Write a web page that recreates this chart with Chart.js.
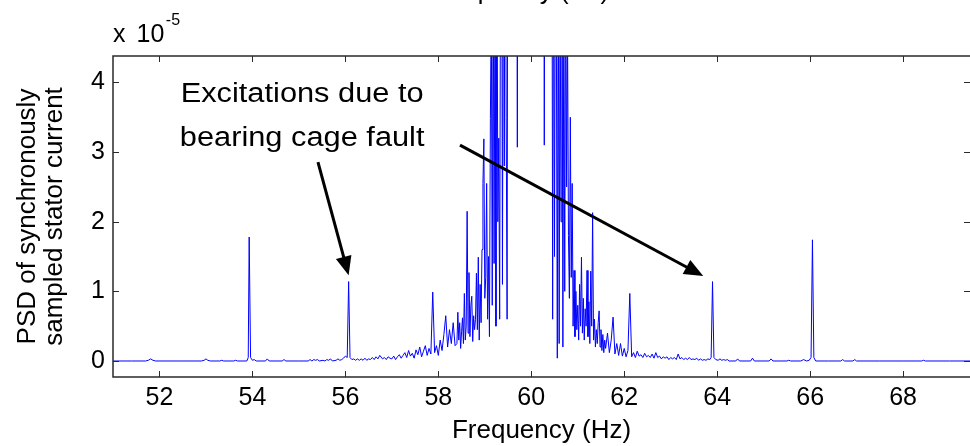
<!DOCTYPE html>
<html>
<head>
<meta charset="utf-8">
<script src="https://cdn.jsdelivr.net/npm/chart.js@4/dist/chart.umd.min.js"></script>
<style>
  html, body { margin: 0; padding: 0; background: #fff; overflow: hidden; }
  canvas { display: block; }
</style>
</head>
<body>
<canvas id="psd" width="970" height="446"></canvas>
<script>
// Axis ticks: frequency in Hz, PSD in units of 1e-5
const freqTicks = [52, 54, 56, 58, 60, 62, 64, 66, 68];
const psdTicks = [0, 1, 2, 3, 4];

// Lower side of the spectrum (Hz / PSD x 1e-5)
const lowFreq = [
  51.00, 51.40, 51.70, 51.76, 51.81, 51.86, 51.92, 52.40, 52.90, 52.96,
  53.00, 53.04, 53.10, 53.30, 53.34, 53.38, 53.60, 53.64, 53.68, 53.88,
  53.91, 53.93, 53.96, 54.00, 54.04, 54.08, 54.28, 54.32, 54.36, 54.64,
  54.68, 54.72, 55.00, 55.20, 55.24, 55.28, 55.32, 55.36, 55.40, 55.44,
  55.52, 55.56, 55.60, 55.64, 55.68, 55.72, 55.80, 55.84, 55.88, 55.92,
  55.96, 56.00, 56.04, 56.07, 56.10, 56.14, 56.18, 56.22, 56.26, 56.30,
  56.34, 56.38, 56.42, 56.46, 56.50, 56.54, 56.58, 56.62, 56.66, 56.70,
  56.74
];
const lowPsd = [
  0, 0, 0, 0.01, 0.03, 0.01, 0, 0, 0, 0.01,
  0.03, 0.01, 0, 0, 0.01, 0, 0, 0.01, 0, 0,
  0.05, 1.78, 0.05, 0.01, 0.02, 0, 0, 0.03, 0, 0,
  0.02, 0, 0, 0, 0.02, 0, 0.02, 0.01, 0.02, 0,
  0.01, 0, 0.02, 0.01, 0.03, 0, 0.01, 0.03, 0.01, 0.02,
  0.04, 0.07, 0.05, 1.14, 0.05, 0.02, 0.03, 0.01, 0.03, 0.01,
  0.03, 0.01, 0.04, 0.01, 0.03, 0.02, 0.05, 0.02, 0.06, 0.03,
  0.08
];

// Rising skirt below the supply frequency
const skirtLowFreq = [
  56.80, 56.84, 56.88, 56.92, 56.96, 57.00, 57.04, 57.08, 57.12, 57.16,
  57.20, 57.24, 57.28, 57.32, 57.36, 57.40, 57.44, 57.48, 57.52, 57.56,
  57.60, 57.64, 57.68, 57.72, 57.76, 57.80, 57.84, 57.88, 57.92, 57.96,
  58.00, 58.04, 58.08, 58.12, 58.16, 58.20, 58.24, 58.28, 58.32, 58.36
];
const skirtLowPsd = [
  0.03, 0.05, 0.02, 0.06, 0.04, 0.03, 0.07, 0.02, 0.06, 0.09,
  0.04, 0.08, 0.12, 0.05, 0.15, 0.07, 0.11, 0.04, 0.16, 0.09,
  0.20, 0.06, 0.14, 0.22, 0.08, 0.18, 0.10, 0.99, 0.12, 0.22,
  0.08, 0.30, 0.15, 0.38, 0.65, 0.20, 0.45, 0.25, 0.55, 0.22
];

// Core band around 60 Hz (finer spacing)
const coreFreq = [
  58.40, 58.42, 58.44, 58.46, 58.48, 58.50, 58.52, 58.54, 58.56, 58.58,
  58.60, 58.62, 58.64, 58.66, 58.68, 58.70, 58.72, 58.74, 58.76, 58.78,
  58.80, 58.82, 58.84, 58.86, 58.88, 58.90, 58.92, 58.94, 58.96, 58.98,
  59.00, 59.02, 59.04, 59.06, 59.08, 59.10, 59.12, 59.14, 59.16, 59.18,
  59.20, 59.22, 59.24, 59.26, 59.28, 59.30, 59.32, 59.34, 59.36, 59.38,
  59.40, 59.42, 59.44, 59.46, 59.48, 59.50, 59.52, 59.54, 59.56, 59.58,
  59.60, 59.62, 59.64, 59.66, 59.68, 59.70, 59.72, 59.74, 59.76, 59.78,
  59.80, 59.82, 59.84, 59.86, 59.88, 59.90, 59.92, 59.94, 59.96, 59.98,
  60.00, 60.02, 60.04, 60.06, 60.08, 60.10, 60.12, 60.14, 60.16, 60.18,
  60.20, 60.22, 60.24, 60.26, 60.28, 60.30, 60.32, 60.34, 60.36, 60.38,
  60.40, 60.42, 60.44, 60.46, 60.48, 60.50, 60.52, 60.54, 60.56, 60.58,
  60.60, 60.62, 60.64, 60.66, 60.68, 60.70, 60.72, 60.74, 60.76, 60.78,
  60.80, 60.82, 60.84, 60.86, 60.88, 60.90, 60.92, 60.94, 60.96, 60.98,
  61.00, 61.02, 61.04, 61.06, 61.08, 61.10, 61.12, 61.14, 61.16, 61.18,
  61.20, 61.22, 61.24, 61.26, 61.28, 61.30, 61.32, 61.34, 61.36, 61.38,
  61.40, 61.42, 61.44, 61.46, 61.48, 61.50, 61.52, 61.54, 61.56, 61.58,
  61.60
];
const corePsd = [
  0.25, 0.70, 0.30, 0.55, 0.18, 0.42, 0.62, 0.25, 0.97, 0.30,
  0.50, 2.15, 0.40, 1.27, 0.35, 0.80, 0.93, 0.28, 0.65, 0.45,
  0.60, 1.26, 0.45, 1.49, 0.30, 1.10, 0.55, 1.60, 2.55, 3.19,
  0.90, 1.20, 2.55, 0.60, 1.50, 0.35, 3.48, 5.20, 0.80, 6.00,
  1.40, 5.50, 0.50, 7.0, 2.0, 3.20, 0.60, 6.5, 8.0, 1.10,
  7.5, 2.8, 9.0, 3.5, 0.60, 10, 8, 14, 11, 16,
  12, 18, 14, 20, 9, 3.07, 10, 18, 22, 26,
  30, 36, 44, 52, 62, 75, 90, 105, 120, 140,
  160, 140, 120, 105, 90, 75, 62, 52, 44, 36,
  30, 25, 18, 10, 3.10, 9, 16, 12, 15, 10,
  14, 6.0, 9.0, 0.60, 7.0, 1.50, 6.5, 4.8, 0.04, 6.0,
  0.25, 5.5, 2.0, 7.0, 0.20, 5.2, 1.0, 6.0, 2.5, 4.8,
  1.8, 0.9, 3.50, 1.2, 2.55, 0.5, 1.30, 0.35, 1.0, 0.45,
  0.8, 0.3, 1.1, 0.5, 1.49, 0.4, 0.9, 0.3, 0.75, 0.5,
  1.30, 0.35, 0.85, 0.25, 1.29, 0.5, 2.13, 0.3, 0.6, 0.2,
  0.45, 0.25, 0.55, 0.72, 0.20, 0.45, 0.15, 0.38, 0.12, 0.30,
  0.18
];

// Falling skirt above the supply frequency
const skirtHighFreq = [
  61.64, 61.68, 61.72, 61.76, 61.80, 61.84, 61.88, 61.92, 61.96, 62.00,
  62.04, 62.08, 62.12, 62.16, 62.20, 62.24, 62.28, 62.32, 62.36, 62.40,
  62.44, 62.48, 62.52, 62.56, 62.60, 62.64, 62.68, 62.72, 62.76, 62.80,
  62.84, 62.88, 62.92, 62.96, 63.00, 63.04, 63.08, 63.12, 63.16, 63.20
];
const skirtHighPsd = [
  0.40, 0.12, 0.30, 0.63, 0.10, 0.25, 0.08, 0.25, 0.07, 0.18,
  0.06, 0.15, 0.97, 0.06, 0.12, 0.05, 0.14, 0.07, 0.09, 0.05,
  0.11, 0.06, 0.08, 0.05, 0.10, 0.04, 0.12, 0.05, 0.07, 0.03,
  0.06, 0.04, 0.06, 0.02, 0.05, 0.03, 0.05, 0.02, 0.10, 0.03
];

// Upper side of the spectrum
const highFreq = [
  63.24, 63.28, 63.32, 63.36, 63.40, 63.44, 63.48, 63.52, 63.56, 63.60,
  63.64, 63.68, 63.72, 63.76, 63.80, 63.84, 63.87, 63.90, 63.93, 63.97,
  64.02, 64.06, 64.10, 64.14, 64.18, 64.22, 64.26, 64.40, 64.44, 64.48,
  64.72, 64.76, 64.80, 65.12, 65.16, 65.20, 65.50, 65.54, 65.58, 65.80,
  65.86, 65.92, 65.98, 66.02, 66.05, 66.08, 66.12, 66.40, 66.66, 66.70,
  66.74, 66.92, 66.96, 67.00, 67.50, 68.00, 68.40, 68.44, 68.48, 69.00,
  69.44
];
const highPsd = [
  0.05, 0.02, 0.04, 0.02, 0.05, 0.02, 0.03, 0.02, 0.04, 0.01,
  0.03, 0.01, 0.02, 0.01, 0.03, 0.02, 0.05, 1.14, 0.05, 0.02,
  0.01, 0.03, 0.01, 0.02, 0.01, 0.02, 0, 0, 0.03, 0,
  0, 0.04, 0, 0, 0.03, 0, 0, 0.01, 0, 0,
  0.02, 0, 0.01, 0.05, 1.74, 0.05, 0, 0, 0, 0.02,
  0, 0, 0.02, 0, 0, 0, 0, 0.01, 0, 0,
  0
];

const FONT = "'Liberation Sans', Arial, Helvetica, sans-serif";

// Callout: text block plus arrows pointing at the cage-fault sidebands (data units)
const callout = {
  lines: ['Excitations due to', 'bearing cage fault'],
  anchor: { x: 55.07, y: 3.72 },
  lineGap: 44,
  arrows: [
    { from: { x: 55.41, y: 2.855 }, to: { x: 56.07, y: 1.23 } },
    { from: { x: 58.466, y: 3.10 }, to: { x: 63.70, y: 1.22 } }
  ]
};

function zip(f, p) { return f.map((v, i) => ({ x: v, y: p[i] })); }
const spectrum = [].concat(
  zip(lowFreq, lowPsd),
  zip(skirtLowFreq, skirtLowPsd),
  zip(coreFreq, corePsd),
  zip(skirtHighFreq, skirtHighPsd),
  zip(highFreq, highPsd)
);

function drawArrow(ctx, x0, y0, x1, y1) {
  const ang = Math.atan2(y1 - y0, x1 - x0);
  const headLen = 19, headHalf = 8;
  const bx = x1 - headLen * Math.cos(ang), by = y1 - headLen * Math.sin(ang);
  ctx.beginPath();
  ctx.moveTo(x0, y0);
  ctx.lineTo(bx + 2 * Math.cos(ang), by + 2 * Math.sin(ang));
  ctx.stroke();
  ctx.beginPath();
  ctx.moveTo(x1, y1);
  ctx.lineTo(bx + headHalf * Math.sin(ang), by - headHalf * Math.cos(ang));
  ctx.lineTo(bx - headHalf * Math.sin(ang), by + headHalf * Math.cos(ang));
  ctx.closePath();
  ctx.fill();
}

const axesBox = {
  id: 'axesBox',
  afterDatasetsDraw(chart) {
    const { ctx, chartArea: a, scales: { x, y } } = chart;
    ctx.save();
    // inward tick marks on all four sides
    ctx.strokeStyle = '#2a2a2a';
    ctx.lineWidth = 1;
    ctx.beginPath();
    freqTicks.forEach(v => {
      const px = Math.round(x.getPixelForValue(v)) + 0.5;
      ctx.moveTo(px, a.bottom); ctx.lineTo(px, a.bottom - 6);
      ctx.moveTo(px, a.top); ctx.lineTo(px, a.top + 6);
    });
    psdTicks.forEach(v => {
      const py = Math.round(y.getPixelForValue(v)) + 0.5;
      ctx.moveTo(a.left, py); ctx.lineTo(a.left + 6, py);
      ctx.moveTo(a.right, py); ctx.lineTo(a.right - 6, py);
    });
    ctx.stroke();
    // box
    ctx.lineWidth = 1.5;
    ctx.beginPath();
    ctx.moveTo(a.right, a.top); ctx.lineTo(a.left, a.top);
    ctx.lineTo(a.left, a.bottom); ctx.lineTo(a.right, a.bottom);
    ctx.stroke();

    // exponent label above the y axis
    ctx.fillStyle = '#000';
    ctx.textAlign = 'left';
    ctx.textBaseline = 'alphabetic';
    ctx.font = '25px ' + FONT;
    ctx.fillText('x', a.left, a.top - 14);
    ctx.fillText('10', a.left + 23.5, a.top - 14);
    const w10 = ctx.measureText('10').width;
    ctx.font = '16px ' + FONT;
    ctx.fillText('-5', a.left + 23.5 + w10 + 1.5, a.top - 31);

    // axis label of the panel above, cut by the top edge
    ctx.font = '26px ' + FONT;
    ctx.textAlign = 'center';
    ctx.fillText('Frequency (Hz)', (a.left + a.right) / 2 - 22, -1);

    // callout text
    ctx.font = '27px ' + FONT;
    const tx = x.getPixelForValue(callout.anchor.x);
    const ty = y.getPixelForValue(callout.anchor.y);
    callout.lines.forEach((t, i) => {
      ctx.save();
      ctx.translate(tx, ty + i * callout.lineGap);
      ctx.scale(1.14, 1);
      ctx.fillText(t, 0, 0);
      ctx.restore();
    });

    // arrows
    ctx.strokeStyle = '#000';
    ctx.fillStyle = '#000';
    ctx.lineWidth = 3;
    callout.arrows.forEach(ar => {
      drawArrow(ctx,
        x.getPixelForValue(ar.from.x), y.getPixelForValue(ar.from.y),
        x.getPixelForValue(ar.to.x), y.getPixelForValue(ar.to.y));
    });
    ctx.restore();
  }
};

new Chart(document.getElementById('psd'), {
  type: 'line',
  data: {
    datasets: [{
      data: spectrum,
      borderColor: '#0000ff',
      borderWidth: 1,
      pointRadius: 0,
      tension: 0,
      fill: false
    }]
  },
  options: {
    responsive: false,
    animation: false,
    devicePixelRatio: 1,
    layout: { padding: { top: 56, left: 0, right: 0, bottom: 0 } },
    plugins: { legend: { display: false }, tooltip: { enabled: false } },
    scales: {
      x: {
        type: 'linear',
        min: 51,
        max: 69.44,
        grid: { display: false, drawTicks: false },
        border: { display: false },
        afterBuildTicks(scale) { scale.ticks = freqTicks.map(v => ({ value: v })); },
        afterFit(scale) { scale.height = 69; },
        ticks: {
          color: '#000',
          padding: 6,
          maxRotation: 0,
          autoSkip: false,
          font: { size: 25, family: FONT }
        },
        title: {
          display: true,
          text: 'Frequency (Hz)',
          color: '#000',
          padding: { top: 0, bottom: 0 },
          font: { size: 26, family: FONT, lineHeight: 1.15 }
        }
      },
      y: {
        type: 'linear',
        min: -0.23,
        max: 4.38,
        grid: { display: false, drawTicks: false },
        border: { display: false },
        afterBuildTicks(scale) { scale.ticks = psdTicks.map(v => ({ value: v })); },
        afterFit(scale) { scale.width = 113; },
        ticks: {
          color: '#000',
          padding: 8,
          autoSkip: false,
          font: { size: 25, family: FONT }
        },
        title: {
          display: true,
          text: ['PSD of synchronously', 'sampled stator current'],
          color: '#000',
          padding: { top: 14, bottom: 0 },
          font: { size: 26, family: FONT, lineHeight: 1.05 }
        }
      }
    }
  },
  plugins: [axesBox]
});
</script>
</body>
</html>
